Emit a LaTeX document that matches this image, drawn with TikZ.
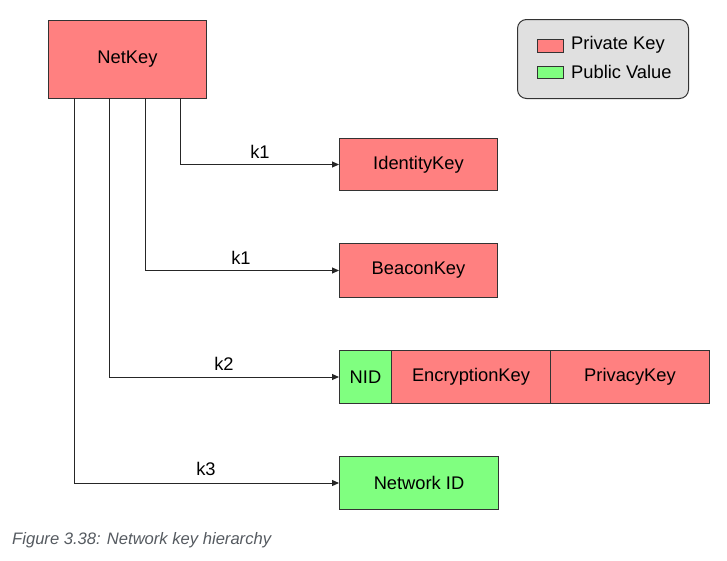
\documentclass[tikz,border=0pt]{standalone}
\usepackage{fontspec}
\setmainfont{Liberation Sans}
\usetikzlibrary{arrows.meta}
\definecolor{pk}{HTML}{FF8080}
\definecolor{pv}{HTML}{80FF80}
\definecolor{lg}{HTML}{E0E0E0}
\definecolor{bd}{HTML}{333333}
\definecolor{capc}{HTML}{555A60}
\begin{document}
\begin{tikzpicture}[x=1pt,y=-1pt,
  box/.style={draw=bd,line width=1pt,inner sep=0pt,anchor=north west,font=\fontsize{18.3}{21}\selectfont},
  privbox/.style={box,fill=pk},
  pubbox/.style={box,fill=pv},
  conn/.style={draw=black!85,line width=1pt,-{Triangle[length=7pt,width=6pt]}},
  lbl/.style={font=\fontsize{18.3}{21}\selectfont,inner sep=0pt}]
\useasboundingbox (0,0) rectangle (727,560);
\node[privbox,minimum width=158pt,minimum height=78pt] (net) at (48,20) {NetKey};
\node[privbox,minimum width=158pt,minimum height=52pt] (idk) at (339,138) {IdentityKey};
\node[privbox,minimum width=158pt,minimum height=54pt] (bk) at (339,243) {BeaconKey};
\node[pubbox,minimum width=52pt,minimum height=53pt] (nid) at (339,350) {NID};
\node[privbox,minimum width=159pt,minimum height=53pt] (enc) at (391,350) {EncryptionKey};
\node[privbox,minimum width=159pt,minimum height=53pt] (priv) at (550,350) {PrivacyKey};
\node[pubbox,minimum width=159pt,minimum height=53pt] (nw) at (339,456) {Network ID};
% connectors
\coordinate (s1) at (180,98);
\coordinate (s2) at (145,98);
\coordinate (s3) at (109,98);
\coordinate (s4) at (74,98);
\draw[conn] (s1) |- (idk.west);
\draw[conn] (s2) |- (bk.west);
\draw[conn] (s3) |- (nid.west);
\draw[conn] (s4) |- (nw.west);
\node[lbl] (l1) at (260,152) {k1};
\node[lbl] (l2) at (241,258) {k1};
\node[lbl] (l3) at (224,364) {k2};
\node[lbl] (l4) at (206,469) {k3};
% legend
\node[draw=bd,line width=1pt,fill=lg,rounded corners=9pt,minimum width=171pt,minimum height=79pt,anchor=north west] (leg) at (517,19) {};
\node[draw=bd,line width=1pt,fill=pk,minimum width=26pt,minimum height=13pt,inner sep=0pt,anchor=north west] (sw1) at (537,39) {};
\node[draw=bd,line width=1pt,fill=pv,minimum width=26pt,minimum height=12pt,inner sep=0pt,anchor=north west] (sw2) at (537,66) {};
\node[lbl,anchor=west] (t1) at (571,45) {Private Key};
\node[lbl,anchor=west] (t2) at (571,72) {Public Value};
% caption
\node[inner sep=0pt,anchor=west,text=capc,font=\fontsize{16.6}{19}\selectfont\itshape] (cap) at (12,540) {Figure 3.38: Network key hierarchy};
\end{tikzpicture}
\end{document}
